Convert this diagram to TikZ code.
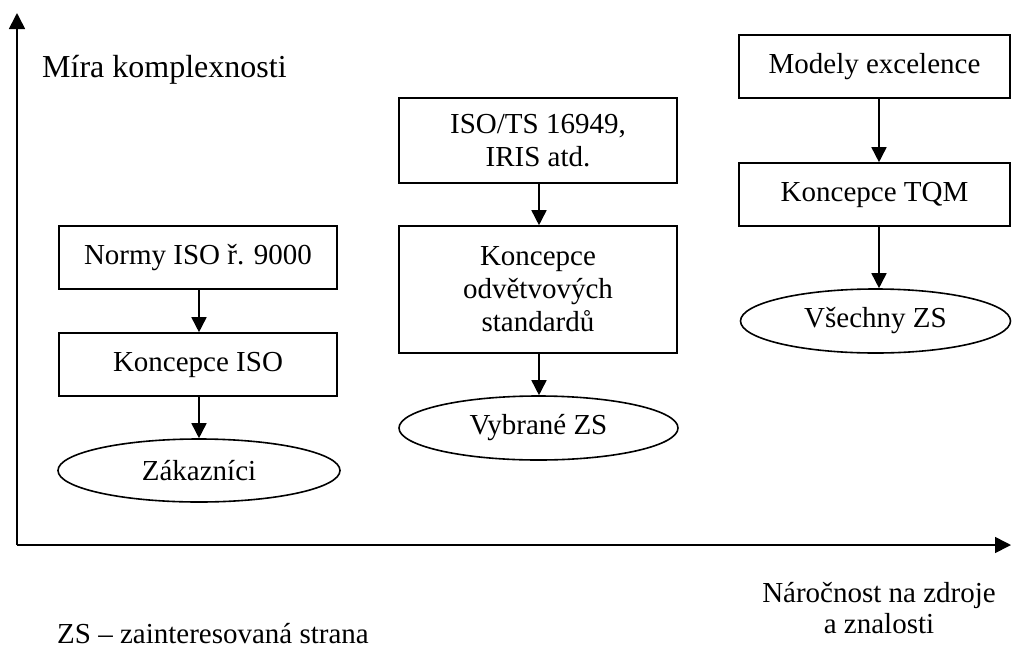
\documentclass[tikz,border=0pt]{standalone}
\usepackage{fontspec}
\setmainfont{Liberation Serif}
\usetikzlibrary{arrows.meta,shapes.geometric}
\tikzset{
  box/.style={draw=black, line width=1.6pt, rectangle, inner sep=0pt, align=center, font=\fontsize{29}{33}\selectfont},
  oval/.style={draw=black, line width=1.6pt, ellipse, inner sep=0pt, font=\fontsize{29}{33}\selectfont},
  lab/.style={inner sep=0pt, font=\fontsize{29}{31}\selectfont},
  conn/.style={line width=1.6pt, -{Triangle[length=15pt,width=15pt]}},
  axis/.style={line width=1.6pt, -{Triangle[length=16pt,width=16pt]}}
}
\begin{document}
\begin{tikzpicture}[x=1pt,y=-1pt]
\useasboundingbox (0,0) rectangle (1012,646);
% axes
\coordinate (o) at (17,545);
\coordinate (ytop) at (17,13);
\coordinate (xend) at (1011,545);
\draw[axis] (o) -- (ytop);
\draw[axis] (o) -- (xend);
% left column
\node[box, minimum width=278pt, minimum height=63pt] (n1) at (198,257.5) {Normy ISO ř. 9000};
\node[box, minimum width=278pt, minimum height=63pt] (n2) at (198,364.5) {Koncepce ISO};
\node[oval, minimum width=282pt, minimum height=63pt] (n3) at (199,470.5) {Zákazníci};
% middle column
\node[box, minimum width=278pt, minimum height=85pt] (m1) at (538,140.5) {ISO/TS 16949,\\IRIS atd.};
\node[box, minimum width=278pt, minimum height=127pt] (m2) at (538,289.5) {Koncepce\\odvětvových\\standardů};
\node[oval, minimum width=279pt, minimum height=64pt] (m3) at (538.5,428) {Vybrané ZS};
% right column
\node[box, minimum width=271pt, minimum height=63pt] (r1) at (874.5,66.5) {Modely excelence};
\node[box, minimum width=271pt, minimum height=63pt] (r2) at (874.5,194.5) {Koncepce TQM};
\node[oval, minimum width=270pt, minimum height=64pt] (r3) at (875.5,321) {Všechny ZS};
% connectors
\draw[conn] ([xshift=1pt]n1.south) -- ([xshift=1pt]n2.north);
\draw[conn] ([xshift=1pt]n2.south) -- (n3.north);
\draw[conn] ([xshift=1pt]m1.south) -- ([xshift=1pt]m2.north);
\draw[conn] ([xshift=1pt]m2.south) -- ([xshift=0.5pt]m3.north);
\draw[conn] ([xshift=4.5pt]r1.south) -- ([xshift=4.5pt]r2.north);
\draw[conn] ([xshift=4.5pt]r2.south) -- ([xshift=3.5pt]r3.north);
% labels
\node[lab, anchor=base west, font=\fontsize{32}{36}\selectfont] (ty) at (42,77) {Míra komplexnosti};
\node[lab, anchor=base, align=center] (tx) at (879,633) {Náročnost na zdroje\\a znalosti};
\node[lab, anchor=base west] (leg) at (57,643) {ZS – zainteresovaná strana};
\end{tikzpicture}
\end{document}
